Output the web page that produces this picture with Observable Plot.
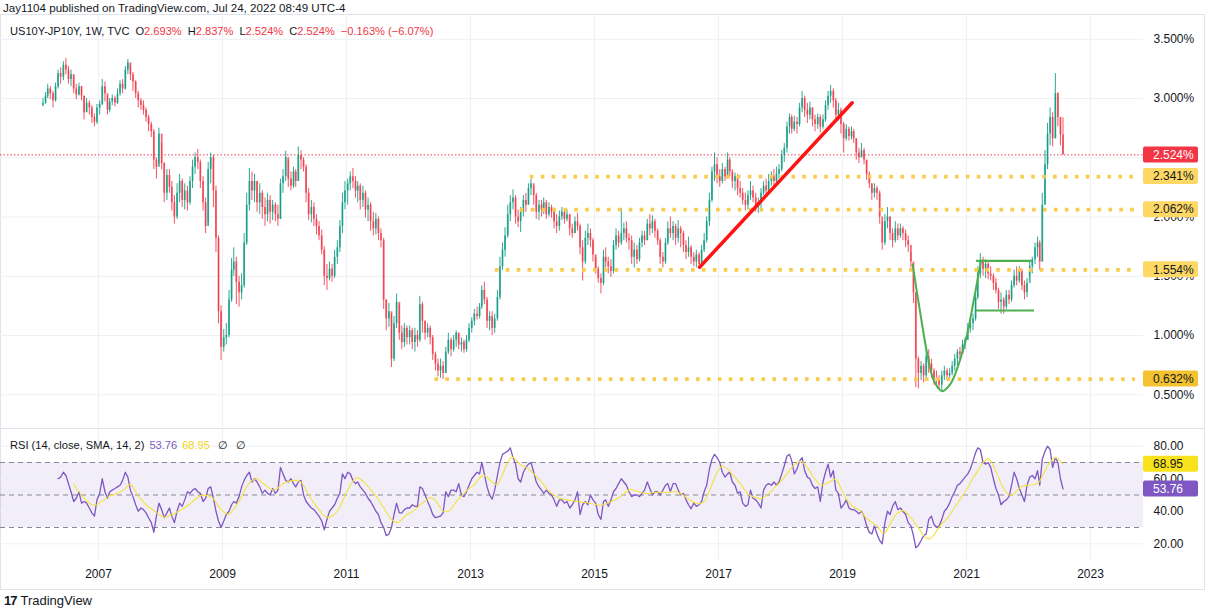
<!DOCTYPE html>
<html>
<head>
<meta charset="utf-8">
<title>US10Y-JP10Y, 1W</title>
<script src="https://cdn.jsdelivr.net/npm/d3@7"></script>
<script src="https://cdn.jsdelivr.net/npm/@observablehq/plot@0.6"></script>
<style>
  html, body { margin: 0; padding: 0; background: #fff; }
  body { font-family: "Liberation Sans", Arial, sans-serif; color: #131722; }
  #chart { position: relative; width: 1205px; height: 610px; overflow: hidden; background: #fff; }
  #published { position: absolute; left: 3px; top: 1px; font-size: 11.6px; line-height: 13px; }
  #frame { position: absolute; left: 0; top: 14px; width: 1203px; height: 574px; border: 1px solid #e0e3eb; }
  #divider { position: absolute; left: 0; top: 428px; width: 1205px; height: 1px; background: #e0e3eb; }
  #price { position: absolute; left: 0; top: 16px; }
  #rsi { position: absolute; left: 0; top: 428px; }
  .legend { position: absolute; font-size: 11.1px; white-space: pre; line-height: 14px; }
  .legend span { margin-left: 6px; }
  .legend span.v { margin-left: 0; }
  .legend span.g { margin-left: 8px; }
  #priceLegend { left: 10px; top: 24px; }
  #rsiLegend { left: 10px; top: 438px; }
  .dn { color: #f23645; }
  .rsiv { color: #7e57c2; }
  .smav { color: #f2d41a; }
  #brand { position: absolute; left: 4px; top: 593px; font-size: 13px; line-height: 16px; }
  #brand b { font-weight: 900; letter-spacing: -1px; margin-right: 4px; }
</style>
</head>
<body>
<div id="chart">
  <div id="published">Jay1104 published on TradingView.com, Jul 24, 2022 08:49 UTC-4</div>
  <div id="frame"></div>
  <div id="divider"></div>
  <div id="price"></div>
  <div id="rsi"></div>
  <div id="priceLegend" class="legend"></div>
  <div id="rsiLegend" class="legend"></div>
  <div id="brand"><b>17</b>TradingView</div>
</div>
<script>
// Weekly US10Y-JP10Y spread, sampled twice a month (Feb 2006 – Jul 2022), in percent.
const closes = [
  2.96,3.02,3.08,3.04,2.98,3.10,3.21,3.18,3.28,3.24,3.16,3.20,3.08,3.03,3.10,3.02,2.88,2.96,2.92,2.84,2.80,2.92,
  2.95,3.10,3.04,2.90,2.97,3.00,2.96,3.04,3.12,3.08,3.24,3.30,3.20,3.14,3.04,2.98,2.94,2.90,2.84,2.78,2.72,2.48,2.42,2.70,
  2.45,2.20,2.35,2.25,2.12,2.00,2.20,2.30,2.14,2.22,2.12,2.30,2.42,2.50,2.46,2.30,2.12,1.92,2.40,2.50,2.22,1.82,1.20,0.90,
  0.98,1.00,1.30,1.55,1.62,1.45,1.36,1.42,1.78,2.10,2.30,2.22,2.30,2.12,2.20,2.08,2.02,2.14,2.04,2.10,2.02,1.98,2.28,2.34,
  2.50,2.32,2.26,2.38,2.30,2.52,2.48,2.42,2.20,2.02,2.08,1.98,1.92,1.84,1.72,1.50,1.48,1.56,1.50,1.66,1.74,1.92,2.12,2.22,
  2.28,2.34,2.30,2.22,2.26,2.14,2.20,2.06,2.10,1.96,1.90,1.98,1.86,1.80,1.30,1.14,1.20,0.80,1.10,1.28,1.02,0.94,1.06,0.98,
  1.04,0.94,1.00,0.96,1.26,1.12,1.02,1.06,0.98,0.84,0.76,0.70,0.74,0.68,0.86,0.96,0.88,0.96,1.02,0.92,0.94,0.88,0.96,1.06,
  1.12,1.18,1.16,1.24,1.38,1.30,1.12,1.16,1.06,1.14,1.32,1.58,1.72,1.84,2.02,2.12,2.16,2.00,1.96,2.04,2.14,2.10,2.24,2.28,
  2.18,2.04,2.10,2.06,2.12,2.02,2.08,2.04,1.96,1.92,2.00,2.04,1.98,2.02,1.90,1.86,1.96,1.92,1.74,1.62,1.82,1.86,1.80,1.68,
  1.56,1.48,1.44,1.66,1.62,1.58,1.54,1.76,1.84,1.78,1.86,1.90,1.82,1.80,1.66,1.72,1.64,1.78,1.84,1.80,1.94,1.90,1.96,1.88,
  1.80,1.66,1.62,1.78,1.90,1.86,1.92,1.82,1.90,1.86,1.76,1.70,1.74,1.66,1.62,1.68,1.60,1.72,1.80,1.96,2.14,2.38,2.44,2.34,
  2.30,2.40,2.34,2.48,2.38,2.30,2.34,2.24,2.20,2.14,2.10,2.18,2.22,2.16,2.08,2.12,2.20,2.26,2.22,2.30,2.34,2.30,2.36,2.40,
  2.52,2.58,2.76,2.84,2.74,2.80,2.78,2.92,3.00,2.90,2.86,2.92,2.82,2.78,2.84,2.76,2.82,2.94,3.02,3.06,2.98,2.86,2.90,2.78,
  2.66,2.74,2.68,2.72,2.66,2.54,2.50,2.56,2.48,2.36,2.28,2.20,2.24,2.20,2.00,1.78,1.96,2.00,1.86,1.80,1.90,1.84,1.90,1.86,
  1.80,1.76,1.62,1.36,0.80,0.68,0.74,0.66,0.82,0.76,0.70,0.64,0.62,0.58,0.66,0.70,0.66,0.68,0.74,0.80,0.86,0.84,0.92,0.96,
  1.06,1.10,1.14,1.32,1.52,1.62,1.56,1.60,1.52,1.50,1.44,1.38,1.28,1.30,1.24,1.34,1.30,1.42,1.50,1.46,1.54,1.42,1.36,1.44,
  1.58,1.64,1.74,1.78,1.62,2.10,2.44,2.70,2.84,2.66,3.04,2.84,2.693,2.524
];
const highs = [
  3.00,3.05,3.12,3.10,3.06,3.13,3.24,3.26,3.31,3.34,3.27,3.24,3.20,3.12,3.13,3.10,3.02,3.00,2.98,2.94,2.87,2.95,
  2.98,3.16,3.14,3.02,3.00,3.03,3.02,3.08,3.15,3.16,3.27,3.33,3.28,3.22,3.15,3.06,3.00,2.98,2.92,2.86,2.80,2.74,2.50,2.75,
  2.62,2.46,2.40,2.40,2.30,2.18,2.28,2.36,2.32,2.28,2.26,2.34,2.48,2.54,2.57,2.48,2.34,2.16,2.46,2.54,2.52,2.26,1.84,1.25,
  1.05,1.10,1.38,1.65,1.74,1.66,1.50,1.52,1.86,2.20,2.41,2.38,2.36,2.30,2.28,2.22,2.16,2.20,2.18,2.14,2.12,2.10,2.32,2.40,
  2.555,2.48,2.38,2.42,2.40,2.59,2.56,2.50,2.44,2.24,2.14,2.12,2.02,1.96,1.89,1.75,1.60,1.62,1.60,1.72,1.80,1.97,2.20,2.30,
  2.32,2.38,2.41,2.34,2.30,2.28,2.26,2.22,2.16,2.12,2.04,2.03,2.00,1.90,1.82,1.30,1.27,1.18,1.16,1.35,1.26,1.08,1.10,1.08,
  1.08,1.06,1.06,1.04,1.33,1.28,1.12,1.10,1.08,1.00,0.86,0.80,0.80,0.78,0.90,1.02,0.98,1.00,1.04,1.02,0.98,0.96,1.00,1.10,
  1.15,1.22,1.24,1.27,1.42,1.45,1.32,1.20,1.20,1.18,1.38,1.66,1.78,1.91,2.10,2.18,2.23,2.18,2.06,2.08,2.18,2.20,2.28,2.32,
  2.26,2.20,2.14,2.14,2.16,2.14,2.12,2.10,2.06,2.02,2.05,2.08,2.06,2.06,2.02,1.94,2.00,2.03,1.94,1.80,1.88,1.94,1.90,1.82,
  1.66,1.58,1.52,1.72,1.74,1.66,1.64,1.80,1.90,1.88,2.07,1.95,1.96,1.86,1.84,1.78,1.76,1.82,1.88,1.88,1.98,2.02,2.01,1.98,
  1.90,1.82,1.70,1.82,1.96,2.00,1.96,1.94,1.97,1.92,1.88,1.80,1.83,1.76,1.70,1.72,1.70,1.76,1.86,2.00,2.20,2.42,2.54,2.50,
  2.40,2.45,2.42,2.54,2.50,2.40,2.37,2.36,2.30,2.24,2.20,2.22,2.30,2.26,2.20,2.16,2.24,2.30,2.32,2.36,2.38,2.40,2.42,2.44,
  2.56,2.62,2.80,2.87,2.86,2.85,2.84,2.96,3.06,3.02,2.96,2.97,2.92,2.86,2.87,2.86,2.86,2.98,3.06,3.11,3.08,3.00,2.96,2.92,
  2.80,2.78,2.76,2.76,2.74,2.66,2.58,2.62,2.58,2.48,2.38,2.28,2.28,2.26,2.22,1.96,2.02,2.08,2.00,1.90,1.96,1.94,1.94,1.92,
  1.89,1.84,1.70,1.60,1.36,0.82,0.78,0.76,0.90,0.88,0.80,0.72,0.70,0.66,0.70,0.74,0.72,0.72,0.78,0.84,0.88,0.90,0.96,0.98,
  1.10,1.14,1.18,1.38,1.58,1.69,1.66,1.64,1.62,1.58,1.52,1.48,1.40,1.36,1.32,1.38,1.38,1.46,1.55,1.58,1.58,1.56,1.46,1.48,
  1.62,1.66,1.78,1.83,1.80,2.20,2.56,2.79,2.92,2.88,3.21,3.05,2.84,2.837
];
const lows = [
  2.93,2.95,3.00,2.99,2.92,2.97,3.08,3.12,3.15,3.20,3.12,3.10,3.04,2.99,3.02,2.98,2.82,2.88,2.86,2.79,2.76,2.78,
  2.86,2.94,2.97,2.86,2.88,2.94,2.93,2.95,3.02,3.04,3.07,3.20,3.15,3.06,3.00,2.92,2.90,2.86,2.80,2.72,2.67,2.40,2.32,2.45,
  2.40,2.12,2.14,2.20,2.05,1.94,1.98,2.12,2.08,2.06,2.05,2.10,2.24,2.36,2.40,2.24,2.05,1.86,1.95,2.28,2.08,1.70,1.10,0.79,
  0.86,0.92,0.98,1.28,1.50,1.26,1.24,1.30,1.40,1.76,2.05,2.14,2.12,2.04,2.02,1.98,1.92,1.96,1.94,1.97,1.96,1.92,1.98,2.20,
  2.30,2.25,2.22,2.24,2.25,2.30,2.40,2.38,2.12,1.97,1.95,1.92,1.85,1.80,1.68,1.42,1.38,1.46,1.45,1.48,1.60,1.70,1.86,2.06,
  2.10,2.22,2.24,2.16,2.12,2.06,2.08,1.99,1.96,1.88,1.84,1.85,1.80,1.74,1.22,1.04,1.07,0.73,0.78,1.06,0.96,0.88,0.90,0.92,
  0.92,0.88,0.86,0.90,0.94,1.02,0.96,0.98,0.92,0.79,0.70,0.65,0.64,0.63,0.68,0.84,0.82,0.86,0.90,0.88,0.86,0.85,0.86,0.94,
  1.02,1.08,1.13,1.14,1.22,1.26,1.06,1.04,1.00,1.02,1.12,1.30,1.55,1.66,1.82,1.96,2.06,1.94,1.91,1.87,2.00,2.04,2.10,2.18,
  2.10,1.98,1.97,2.00,2.02,1.98,2.00,1.99,1.90,1.86,1.88,1.97,1.94,1.96,1.84,1.82,1.86,1.88,1.68,1.46,1.60,1.76,1.74,1.62,
  1.52,1.44,1.35,1.42,1.57,1.52,1.49,1.52,1.72,1.74,1.76,1.80,1.78,1.72,1.60,1.57,1.60,1.62,1.74,1.76,1.80,1.84,1.86,1.82,
  1.76,1.60,1.57,1.60,1.76,1.82,1.80,1.76,1.78,1.74,1.70,1.64,1.66,1.60,1.58,1.57,1.57,1.57,1.70,1.78,1.92,2.12,2.30,2.28,
  2.25,2.28,2.30,2.32,2.34,2.24,2.22,2.18,2.16,2.10,2.05,2.06,2.14,2.12,2.04,2.03,2.06,2.18,2.18,2.20,2.26,2.26,2.28,2.32,
  2.38,2.46,2.54,2.70,2.70,2.72,2.70,2.76,2.88,2.84,2.79,2.82,2.76,2.72,2.74,2.71,2.74,2.80,2.90,2.96,2.92,2.82,2.81,2.70,
  2.54,2.64,2.64,2.65,2.62,2.48,2.45,2.50,2.44,2.31,2.24,2.14,2.16,2.14,1.94,1.72,1.76,1.90,1.80,1.74,1.78,1.80,1.82,1.80,
  1.74,1.70,1.57,1.27,0.56,0.55,0.62,0.60,0.64,0.68,0.64,0.58,0.56,0.54,0.53,0.62,0.62,0.63,0.66,0.70,0.74,0.80,0.84,0.88,
  0.96,1.02,1.04,1.12,1.30,1.48,1.50,1.48,1.47,1.46,1.38,1.35,1.22,1.18,1.18,1.22,1.26,1.28,1.40,1.42,1.44,1.38,1.30,1.32,
  1.50,1.52,1.60,1.66,1.55,1.62,2.10,2.40,2.60,2.59,2.66,2.76,2.60,2.524
];
const firstOpen = 2.94;

// Last weekly bar as quoted in the legend (change is against the prior weekly close).
const lastBar = {open: 2.693, high: 2.837, low: 2.524, close: 2.524, change: -0.163, changePct: -6.07};

// RSI(14) of the close and its 14-period SMA, same sampling.
const rsi = [
  null,null,null,null,null,null,60,61,64,62,57,52,46,48,52,45,46,45,42,39,37,47,
  51,60,52,48,52,53,54,55,56,59,64,61,53,49,44,40,42,41,39,36,33,27,37,45,
  41,36,39,42,37,33,40,45,43,47,52,51,53,54,52,51,46,48,54,55,48,40,34,30,
  34,38,40,44,46,45,49,55,59,62,64,58,60,58,55,51,53,51,50,54,51,53,67,63,
  59,58,60,57,55,58,59,50,46,44,42,41,39,37,34,28.5,35,40,42,44,48,51,63,60,
  64,63,59,57,58,55,53,51,48,46,43,40,38,33,30,25,26,30,38,45,39,39,41,42,
  42,44,43,43,55,54,50,46,42.5,38,36,36.5,37,39,52,49,53,53,52,57,50,49,52,56,
  60,62,64,63,70,63,55,50,47.5,53,62,70,75,76,77,79,73,69,60,58,64,67,69,70,
  64,58,55,53,51,53,51,50,47,43,47,47,45,46,42,44,47,52,38,44,46,44,50,47,
  45,38,35,46,47,43,47,52,54,57,60,58,56,52,49,50,50,49,51,53,58,54,50,52,
  52,50,53,56,57,52,57,57,53,50,51,47,44,41.5,45,43,44,46,52,56,66,72,75,73,
  70,64,61,63,64,58,56,51,52,45,43,44,53,48,47,45,42,53,56,57,56,58,56,58,
  63,68,74,75,71,63,66,71,73,65,61,60,56,54,55,46,58,64,69,61,65,53,51,42,
  44,47,42,41,41,40,38.5,40,37,31,27,26,31,26,22,20,33,40,38,43,46,41,42,40,
  38,33,31,25,17.5,19,22,25,26,35,37,32,30,31,35,40,42,45,49,52,56,57,59,61,
  63,66,71,76,79,78,70,69,70,67,60,54,50,44,46,47,49,56,64,60,54,50,46,56,
  61,62,60,65,56,72,77,80,78,67,73,70,60,53.76
];
const rsiSma = [
  null,null,null,null,null,null,null,null,null,null,null,null,57,54,52,50,48,46.5,45,44,43.5,44,
  45.5,46.2,47.5,48.7,49.5,50,50.5,51,52,52.7,54,55.5,57,55,52,49.5,47.5,45.6,44,42.5,41.5,40.5,39,38,
  37,36.4,36.6,37.2,37.8,38.5,39.5,40.3,41.2,42.3,43.5,44.5,46,47.2,48.5,49.5,49.8,49.8,49.5,48.8,47.8,45.5,43,41,
  39.5,38.5,38,39.5,41.5,43.5,46,49,52.5,55,57.5,58.8,59.7,60,59,57.5,56.3,55,54,53,53.2,54.3,55.8,57,
  57.7,58.3,58.7,59,59,58.8,58,56,53,50.5,47.5,45,43,41,38.8,37.2,36.5,36.4,37,38.2,40,42.5,46,49.5,
  53,56,58.5,60.3,60.8,60,58.3,57,55.2,53.5,51.5,49.5,47.3,44.8,42.3,39.5,37,35,33.7,33,33.5,35,36.6,38,
  38.8,39.8,41,42.3,43.8,45,46.3,47.5,48.5,48,46.5,44.5,42,40,39.7,40.2,41.3,43.5,46,47.6,49.2,50.9,52.5,54,
  55,56.3,58.5,60.5,61.5,62,61,59.3,58,56.5,56.3,59,62.5,66.5,70,72.8,73.3,72,70,68.5,67.8,67,66,64.8,
  63,61.5,59.8,58,56.4,54.2,52.4,51,50,48.9,48.2,47.7,47.3,47,46.7,46.5,46.3,46,45.8,45.6,45.4,45.1,44.8,44.6,
  44.2,43.8,43.5,44,44.6,45.2,45.8,46.6,47.4,48.3,49.3,50.6,52,53.4,53.5,52.8,52.3,51.9,51.4,51,50.9,51.1,51.4,51.7,
  51.7,51.6,51.5,51.5,51.6,51.8,52,52,51.5,50.8,49.8,48.5,47.5,46.4,45.5,44.8,44.6,45,46,48.5,52.5,56.5,60.5,64,
  66.5,68,67,66,64.5,62.5,61,59,57,55,52.5,50.5,49.6,49,48.4,48,47.8,48.5,49.6,50.8,52.3,54,55.8,57.2,
  59,61,63,65.3,67,68.5,69.8,70.8,70.5,68.7,66.8,64.7,62,59.8,57.8,56,56.2,56.8,57.5,58.5,59.5,59.5,57.5,54,
  51,47.5,45.5,43.8,42.4,41.6,41,39.5,37.5,35.5,34.3,33.3,32.2,31,28.8,26.8,26.5,29,32,35,37.6,39,40,40.5,
  39.5,38,36,34,32,29.8,27.5,25,23.5,22.8,23.8,25.5,27.8,30.2,32.3,33.8,35.4,37.5,40,42.5,44.8,47.3,49.8,52,
  54.5,57.5,60.5,62.5,65,67.5,70,71.5,72.3,71,68.2,64.5,61,57,54,51.5,50.2,49.8,50.8,52.5,54.3,55.2,55.6,55.9,
  56,56.2,56.6,57.2,58.5,61.5,64.8,68,70.3,72,73,72.5,70.5,68.95
];

// Axis ticks
const priceTicks = [0.5, 1, 1.5, 2, 2.5, 3, 3.5];
const rsiTicks = [20, 40, 60, 80];
const rsiGuides = [30, 50, 70];
const yearTicks = [2007, 2009, 2011, 2013, 2015, 2017, 2019, 2021, 2023];

// Drawn annotations
const levels = [2.341, 2.062, 1.554, 0.632];
const levelStarts = ["2013-12-19", "2013-10-21", "2013-05-27", "2012-06-05"];
const levelEnd = "2023-09-22";
const trendDates = ["2016-09-11", "2019-02-27"];
const trendValues = [1.576, 2.964];
const cupDates = ["2020-02-18", "2020-04-04", "2020-05-14", "2020-06-22", "2020-08-10", "2020-09-28",
                  "2020-11-16", "2021-01-05", "2021-02-12", "2021-03-13", "2021-03-27"];
const cupValues = [1.599, 1.183, 0.846, 0.620, 0.530, 0.592, 0.761, 1.014, 1.295, 1.521, 1.633];
const rangeValues = [1.630, 1.211];
const rangeStarts = ["2021-03-01", "2021-03-01"];
const rangeEnds = ["2022-01-22", "2022-02-05"];

// ---- build rows ----
const up = "#089981", down = "#f23645", gridColor = "#eef0f4", gold = "#f9cb4a", green = "#4caf50";
const periods = [];
for (let y = 2006, m = 1; periods.length < closes.length; m === 11 ? (m = 0, y++) : m++) {
  periods.push(new Date(Date.UTC(y, m, 8)), new Date(Date.UTC(y, m, 23)));
}
const candles = periods.map((date, i) => ({
  date, open: i ? closes[i - 1] : firstOpen, high: highs[i], low: lows[i], close: closes[i]
}));
const rising = candles.filter(d => d.close >= d.open);
const falling = candles.filter(d => d.close < d.open);
const rsiRows = periods.map((date, i) => ({date, rsi: rsi[i], sma: rsiSma[i]}));
const yearDates = yearTicks.map(y => new Date(Date.UTC(y, 0, 1)));
const levelRows = levels.map((value, i) => ({value, start: new Date(levelStarts[i]), end: new Date(levelEnd)}));
const trendRows = trendDates.map((d, i) => ({date: new Date(d), value: trendValues[i]}));
const cupRows = cupDates.map((d, i) => ({date: new Date(d), value: cupValues[i]}));
const rangeRows = rangeValues.map((value, i) => ({value, start: new Date(rangeStarts[i]), end: new Date(rangeEnds[i])}));

const xDomain = [new Date(Date.UTC(2007, 0, 1)), new Date(Date.UTC(2023, 0, 1))];
const xRange = [98, 1090];
const font = "'Liberation Sans', Arial, sans-serif";

// Price-scale tag at the right edge of the frame
function tag(value, fill, color, text) {
  return (index, scales, values, dims) => {
    const y = scales.y(value);
    const x0 = dims.width - dims.marginRight;
    const g = d3.create("svg:g").attr("text-anchor", "start");
    g.append("rect").attr("x", x0).attr("y", y - 8).attr("width", 55).attr("height", 16)
      .attr("rx", 2).attr("fill", fill);
    g.append("text").attr("x", x0 + 10).attr("y", y).attr("dy", "0.36em")
      .attr("fill", color).attr("font-size", 12).attr("font-family", font).text(text);
    return g.node();
  };
}

const lastClose = closes[closes.length - 1];
const pct = v => v.toFixed(3) + "%";

const pricePlot = Plot.plot({
  width: 1205, height: 412,
  marginTop: 0, marginBottom: 0, marginLeft: 0, marginRight: 62,
  x: {type: "utc", domain: xDomain, range: xRange, axis: null},
  y: {domain: [0.5, 3.5], range: [378.25, 22.75], label: null},
  style: {background: "transparent", fontFamily: font, fontSize: "12px", color: "#131722"},
  marks: [
    Plot.gridY(priceTicks, {stroke: gridColor, strokeOpacity: 1}),
    Plot.gridX(yearDates, {stroke: gridColor, strokeOpacity: 1}),
    Plot.axisY(priceTicks, {anchor: "right", tickSize: 0, tickPadding: 10, tickFormat: pct, label: null, textAnchor: "start"}),
    Plot.ruleY([lastClose], {stroke: down, strokeWidth: 1, strokeDasharray: "1.5,2"}),
    Plot.ruleX(rising, {x: "date", y1: "low", y2: "high", stroke: up, strokeWidth: 1, strokeOpacity: 0.85}),
    Plot.ruleX(falling, {x: "date", y1: "low", y2: "high", stroke: down, strokeWidth: 1, strokeOpacity: 0.85}),
    Plot.ruleX(rising, {x: "date", y1: "open", y2: "close", stroke: up, strokeWidth: 1.8, strokeOpacity: 0.75}),
    Plot.ruleX(falling, {x: "date", y1: "open", y2: "close", stroke: down, strokeWidth: 1.8, strokeOpacity: 0.75}),
    Plot.ruleY(levelRows, {y: "value", x1: "start", x2: "end", stroke: gold, strokeWidth: 3.6, strokeDasharray: "3.6,7.3"}),
    Plot.line(trendRows, {x: "date", y: "value", stroke: "#ff1414", strokeWidth: 3.5}),
    Plot.line(cupRows, {x: "date", y: "value", stroke: green, strokeWidth: 2, curve: "catmull-rom"}),
    Plot.ruleY(rangeRows, {y: "value", x1: "start", x2: "end", stroke: green, strokeWidth: 2.2}),
    tag(lastClose, down, "#ffffff", pct(lastClose)),
    tag(levels[0], "#fdd865", "#131722", pct(levels[0])),
    tag(levels[1], "#fdd865", "#131722", pct(levels[1])),
    tag(levels[2], "#fdd865", "#131722", pct(levels[2])),
    tag(levels[3], "#f4c22f", "#131722", pct(levels[3]))
  ]
});
document.getElementById("price").append(pricePlot);

const lastRsi = rsi[rsi.length - 1];
const lastSma = rsiSma[rsiSma.length - 1];

const rsiPlot = Plot.plot({
  width: 1205, height: 162,
  marginTop: 0, marginBottom: 30, marginLeft: 0, marginRight: 62,
  x: {type: "utc", domain: xDomain, range: xRange, label: null},
  y: {domain: [20, 80], range: [115.25, 17.75], label: null},
  style: {background: "transparent", fontFamily: font, fontSize: "12px", color: "#131722"},
  marks: [
    Plot.rect([{lo: rsiGuides[0], hi: rsiGuides[2]}], {y1: "lo", y2: "hi", fill: "#7e57c2", fillOpacity: 0.1}),
    Plot.gridY(rsiTicks, {stroke: gridColor, strokeOpacity: 1}),
    Plot.gridX(yearDates, {stroke: gridColor, strokeOpacity: 1}),
    Plot.ruleY(rsiGuides, {stroke: "#868993", strokeWidth: 1, strokeDasharray: "5,4"}),
    Plot.line(rsiRows, {x: "date", y: "rsi", stroke: "#7e57c2", strokeWidth: 1.3}),
    Plot.line(rsiRows, {x: "date", y: "sma", stroke: "#f5e23c", strokeWidth: 1.1}),
    Plot.axisY(rsiTicks, {anchor: "right", tickSize: 0, tickPadding: 10, tickFormat: d => d.toFixed(2), label: null, textAnchor: "start"}),
    Plot.axisX(yearDates, {anchor: "bottom", tickSize: 0, tickPadding: 9, tickFormat: d3.utcFormat("%Y"), label: null}),
    tag(lastSma, "#f7e21b", "#131722", lastSma.toFixed(2)),
    tag(lastRsi, "#7e57c2", "#ffffff", lastRsi.toFixed(2))
  ]
});
document.getElementById("rsi").append(rsiPlot);

// Legends
const sgn = v => (v < 0 ? "\u2212" : "+") + Math.abs(v);
document.getElementById("priceLegend").innerHTML =
  `US10Y-JP10Y, 1W, TVC<span>O</span><span class="dn v">${pct(lastBar.open)}</span><span>H</span><span class="dn v">${pct(lastBar.high)}</span>` +
  `<span>L</span><span class="dn v">${pct(lastBar.low)}</span><span>C</span><span class="dn v">${pct(lastBar.close)}</span>` +
  `<span class="dn">${sgn(lastBar.change.toFixed(3))}% (${sgn(lastBar.changePct.toFixed(2))}%)</span>`;
document.getElementById("rsiLegend").innerHTML =
  `RSI (14, close, SMA, 14, 2)<span class="rsiv" style="margin-left:5px">${lastRsi.toFixed(2)}</span><span class="smav" style="margin-left:5px">${lastSma.toFixed(2)}</span><span class="g">\u2205</span><span class="g">\u2205</span>`;
</script>
</body>
</html>
